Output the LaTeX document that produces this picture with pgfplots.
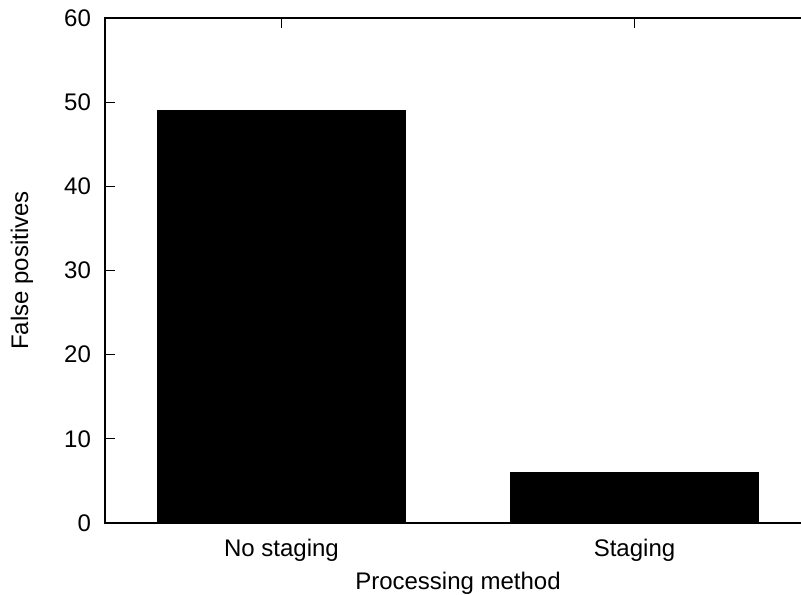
\documentclass[border=0pt]{standalone}
\usepackage{fontspec}
\setmainfont{Liberation Sans}
\usepackage{pgfplots}
\pgfplotsset{compat=1.18}

\begin{document}
\begin{tikzpicture}[font=\fontsize{12}{14}\selectfont]
\begin{axis}[
    name=ax,
    scale only axis,
    width=353pt, height=252.5pt,
    ybar,
    bar width=124pt,
    xmin=-0.5, xmax=1.5,
    ymin=0, ymax=60,
    xtick={0,1},
    xticklabels={No staging, Staging},
    ytick={0,10,20,30,40,50,60},
    xtick align=inside,
    ytick align=inside,
    major tick length=5pt,
    axis line style={line width=0.8pt},
    every tick/.style={black, line width=0.6pt},
    /pgf/number format/assume math mode=true,
    yticklabel style={xshift=-3.5pt},
    xticklabel style={yshift=-4.5pt},
    every axis x label/.style={at={(axis description cs:0.5,0)}, yshift=-30pt, anchor=center},
    every axis y label/.style={at={(axis description cs:0,0.5)}, xshift=-41.5pt, rotate=90, anchor=center},
    xlabel={Processing method},
    ylabel={False positives},
]
\addplot[fill=black, draw=black] coordinates {(0,49) (1,6)};
\end{axis}
\pgfresetboundingbox
\path[use as bounding box] ([xshift=-52.5pt,yshift=-36pt]ax.south west) rectangle ([xshift=-5pt,yshift=9pt]ax.north east);
\end{tikzpicture}
\end{document}
